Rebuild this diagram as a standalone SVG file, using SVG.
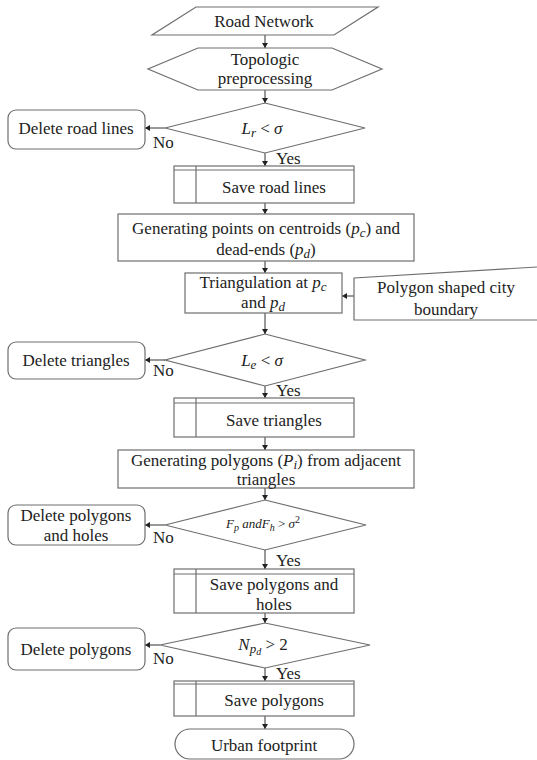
<svg xmlns="http://www.w3.org/2000/svg" width="537" height="760" viewBox="0 0 537 760">
<style>
.s{fill:#fff;stroke:#6e6e6e;stroke-width:1.2}
.l{fill:none;stroke:#333;stroke-width:1}
.t{font-family:"Liberation Serif","Times New Roman",serif;font-size:17px;fill:#222;text-anchor:middle}
.ts{font-family:"Liberation Serif","Times New Roman",serif;font-size:17px;fill:#222}
.i{font-style:italic}
</style>
<defs>
<marker id="ah" markerWidth="6" markerHeight="6" refX="5" refY="3" orient="auto" markerUnits="userSpaceOnUse">
<path d="M0,0 L5,3 L0,6 Z" fill="#222"/>
</marker>
</defs>
<rect width="537" height="760" fill="#fff"/>

<g id="connectors">
<line class="l" x1="265" y1="35" x2="265" y2="48" marker-end="url(#ah)"/>
<line class="l" x1="265" y1="90" x2="265" y2="103" marker-end="url(#ah)"/>
<line class="l" x1="165" y1="128" x2="145" y2="128" marker-end="url(#ah)"/>
<line class="l" x1="265" y1="153" x2="265" y2="166" marker-end="url(#ah)"/>
<line class="l" x1="265" y1="203" x2="265" y2="214" marker-end="url(#ah)"/>
<line class="l" x1="265" y1="261" x2="265" y2="273" marker-end="url(#ah)"/>
<line class="l" x1="354" y1="296" x2="342" y2="296" marker-end="url(#ah)"/>
<line class="l" x1="265" y1="313" x2="265" y2="334" marker-end="url(#ah)"/>
<line class="l" x1="165" y1="360" x2="145" y2="360" marker-end="url(#ah)"/>
<line class="l" x1="265" y1="386" x2="265" y2="398" marker-end="url(#ah)"/>
<line class="l" x1="265" y1="437" x2="265" y2="450" marker-end="url(#ah)"/>
<line class="l" x1="265" y1="488" x2="265" y2="500" marker-end="url(#ah)"/>
<line class="l" x1="165" y1="525" x2="145" y2="525" marker-end="url(#ah)"/>
<line class="l" x1="265" y1="550" x2="265" y2="569" marker-end="url(#ah)"/>
<line class="l" x1="265" y1="613" x2="265" y2="623" marker-end="url(#ah)"/>
<line class="l" x1="160" y1="645" x2="145" y2="645" marker-end="url(#ah)"/>
<line class="l" x1="265" y1="668" x2="265" y2="681" marker-end="url(#ah)"/>
<line class="l" x1="265" y1="716" x2="265" y2="729" marker-end="url(#ah)"/>
<text class="ts" x="153" y="148">No</text>
<text class="ts" x="276" y="164">Yes</text>
<text class="ts" x="153" y="376">No</text>
<text class="ts" x="276" y="396">Yes</text>
<text class="ts" x="153" y="543">No</text>
<text class="ts" x="276" y="566">Yes</text>
<text class="ts" x="153" y="664">No</text>
<text class="ts" x="276" y="679">Yes</text>
</g>

<g id="road-network">
<polygon class="s" points="196,7 378,7 334,35 152,35"/>
<text class="t" x="264" y="27">Road Network</text>
</g>

<g id="topologic">
<polygon class="s" points="198,48 332,48 382,69 332,90 198,90 148,69"/>
<text class="t" x="265" y="65">Topologic</text>
<text class="t" x="265" y="84">preprocessing</text>
</g>

<g id="dec1">
<polygon class="s" points="265,103 365,128 265,153 165,128"/>
<text class="t" x="262" y="134"><tspan class="i">L</tspan><tspan class="i" font-size="13" dy="3">r</tspan><tspan dy="-3"> &lt; </tspan><tspan class="i">σ</tspan></text>
</g>

<g id="delete-road-lines">
<rect class="s" x="8" y="110" width="137" height="39" rx="8"/>
<text class="t" x="76" y="134">Delete road lines</text>
</g>

<g id="save-road-lines">
<rect class="s" x="174" y="166" width="180" height="37"/>
<line class="s" x1="174" y1="170" x2="354" y2="170"/>
<line class="s" x1="196" y1="166" x2="196" y2="203"/>
<text class="t" x="274" y="193">Save road lines</text>
</g>

<g id="gen-points">
<rect class="s" x="118" y="214" width="296" height="47"/>
<text class="t" x="266" y="234">Generating points on centroids (<tspan class="i">p</tspan><tspan class="i" font-size="13" dy="3">c</tspan><tspan dy="-3">) and</tspan></text>
<text class="t" x="266" y="255">dead-ends (<tspan class="i">p</tspan><tspan class="i" font-size="13" dy="3">d</tspan><tspan dy="-3">)</tspan></text>
</g>

<g id="triangulation">
<rect class="s" x="185" y="273" width="157" height="40"/>
<text class="t" x="263" y="288">Triangulation at <tspan class="i">p</tspan><tspan class="i" font-size="13" dy="3">c</tspan></text>
<text class="t" x="263" y="308">and <tspan class="i">p</tspan><tspan class="i" font-size="13" dy="3">d</tspan></text>
</g>

<g id="city-boundary">
<path class="s" d="M537,267 L354,278 L354,320 L537,320"/>
<text class="t" x="446" y="293">Polygon shaped city</text>
<text class="t" x="446" y="315">boundary</text>
</g>

<g id="dec2">
<polygon class="s" points="265,334 365,360 265,386 165,360"/>
<text class="t" x="262" y="366"><tspan class="i">L</tspan><tspan class="i" font-size="13" dy="3">e</tspan><tspan dy="-3"> &lt; </tspan><tspan class="i">σ</tspan></text>
</g>

<g id="delete-triangles">
<rect class="s" x="8" y="342" width="137" height="37" rx="8"/>
<text class="t" x="76" y="366">Delete triangles</text>
</g>

<g id="save-triangles">
<rect class="s" x="174" y="398" width="180" height="39"/>
<line class="s" x1="174" y1="403" x2="354" y2="403"/>
<line class="s" x1="196" y1="398" x2="196" y2="437"/>
<text class="t" x="274" y="426">Save triangles</text>
</g>

<g id="gen-polygons">
<rect class="s" x="118" y="450" width="296" height="38"/>
<text class="t" x="266" y="466">Generating polygons (<tspan class="i">P</tspan><tspan class="i" font-size="13" dy="3">i</tspan><tspan dy="-3">) from adjacent</tspan></text>
<text class="t" x="266" y="485">triangles</text>
</g>

<g id="dec3">
<polygon class="s" points="265,500 366,525 265,550 165,525"/>
<text class="t" x="263" y="528" style="font-size:13px"><tspan class="i">F</tspan><tspan class="i" font-size="10" dy="3">p</tspan><tspan class="i" dy="-3"> andF</tspan><tspan class="i" font-size="10" dy="3">h</tspan><tspan dy="-3"> &gt; </tspan><tspan class="i">σ</tspan><tspan font-size="10" dy="-5">2</tspan></text>
</g>

<g id="delete-polygons-holes">
<rect class="s" x="8" y="505" width="137" height="40" rx="8"/>
<text class="t" x="76" y="521">Delete polygons</text>
<text class="t" x="76" y="541">and holes</text>
</g>

<g id="save-polygons-holes">
<rect class="s" x="174" y="569" width="180" height="44"/>
<line class="s" x1="174" y1="574" x2="354" y2="574"/>
<line class="s" x1="196" y1="569" x2="196" y2="613"/>
<text class="t" x="274" y="590">Save polygons and</text>
<text class="t" x="274" y="610">holes</text>
</g>

<g id="dec4">
<polygon class="s" points="265,623 370,645 265,668 160,645"/>
<text class="t" x="263" y="650"><tspan class="i">N</tspan><tspan class="i" font-size="13" dy="3">p</tspan><tspan class="i" font-size="10" dy="2">d</tspan><tspan dy="-5"> &gt; 2</tspan></text>
</g>

<g id="delete-polygons">
<rect class="s" x="8" y="628" width="137" height="42" rx="8"/>
<text class="t" x="76" y="655">Delete polygons</text>
</g>

<g id="save-polygons">
<rect class="s" x="174" y="681" width="180" height="35"/>
<line class="s" x1="174" y1="684" x2="354" y2="684"/>
<line class="s" x1="196" y1="681" x2="196" y2="716"/>
<text class="t" x="274" y="706">Save polygons</text>
</g>

<g id="urban-footprint">
<rect class="s" x="175" y="729" width="179" height="30" rx="15"/>
<text class="t" x="264" y="751">Urban footprint</text>
</g>
</svg>
